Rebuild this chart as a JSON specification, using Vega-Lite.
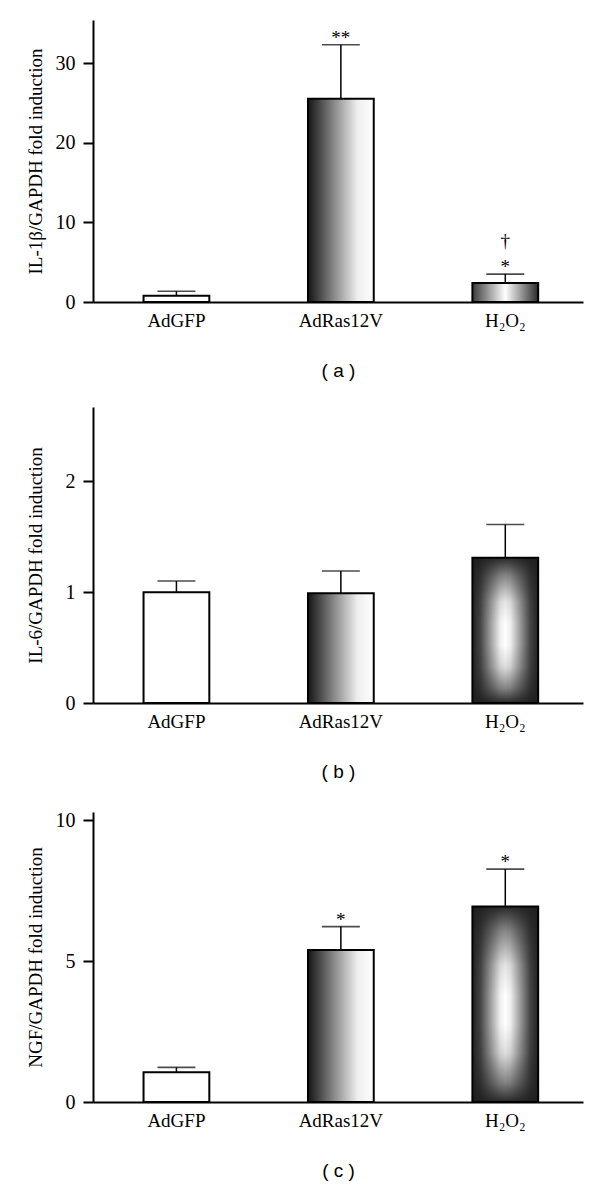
{
  "$schema": "https://vega.github.io/schema/vega-lite/v6.json",
  "background": "white",
  "padding": {"left": 26, "top": 2, "right": 10, "bottom": 2},
  "spacing": 29,
  "config": {
    "view": {"stroke": null},
    "font": "Liberation Serif",
    "axis": {
      "domainColor": "black", "domainWidth": 2, "tickColor": "black", "tickWidth": 2,
      "labelColor": "black", "titleColor": "black",
      "labelFont": "Liberation Serif", "titleFont": "Liberation Serif",
      "labelFontSize": 19, "titleFontSize": 19, "titleFontWeight": "normal", "grid": false
    },
    "axisX": {"ticks": false, "labelAngle": 0, "labelPadding": 9, "titleFont": "Liberation Sans", "titleFontSize": 19, "titlePadding": 31},
    "axisY": {"tickSize": 10, "labelPadding": 8, "titlePadding": 10, "labelFontSize": 20}
  },
  "vconcat": [
    {
      "spacing": 27,
      "vconcat": [
        {
          "width": 490, "height": 282,
          "data": {"values": [
            {"group": "AdGFP", "value": 0.8, "err": 1.35, "sig": "", "sig2": ""},
            {"group": "AdRas12V", "value": 25.5, "err": 32.3, "sig": "**", "sig2": ""},
            {"group": "H₂O₂", "value": 2.4, "err": 3.5, "sig": "*", "sig2": "†"}
          ]},
          "encoding": {
            "x": {"field": "group", "type": "nominal", "sort": null, "scale": {"paddingInner": 0.6, "paddingOuter": 0.29, "align": 0.53}, "axis": {"title": "( a )"}},
            "y": {"field": "value", "type": "quantitative", "scale": {"domain": [0, 35.4], "nice": false}, "axis": {"values": [0, 10, 20, 30], "title": "IL-1β/GAPDH fold induction"}}
          },
          "layer": [
            {"mark": {"type": "rule", "stroke": "black", "strokeWidth": 1.5}, "encoding": {"y2": {"field": "err"}}},
            {"mark": {"type": "tick", "color": "black", "size": 38, "thickness": 1.6}, "encoding": {"y": {"field": "err", "type": "quantitative", "title": "IL-1β/GAPDH fold induction"}}},
            {"transform": [{"filter": "datum.group === 'AdGFP'"}], "mark": {"type": "bar", "fill": "white", "stroke": "black", "strokeWidth": 2}},
            {"transform": [{"filter": "datum.group === 'AdRas12V'"}], "mark": {"type": "bar", "stroke": "black", "strokeWidth": 2,
              "fill": {"gradient": "linear", "x1": 0, "y1": 0, "x2": 1, "y2": 0, "stops": [
                {"offset": 0, "color": "#151515"}, {"offset": 0.4, "color": "#8a8a8a"}, {"offset": 0.75, "color": "#eeeeee"}, {"offset": 1, "color": "#ffffff"}]}}},
            {"transform": [{"filter": "datum.group === 'H₂O₂'"}], "mark": {"type": "bar", "stroke": "black", "strokeWidth": 2,
              "fill": {"gradient": "linear", "x1": 0, "y1": 0, "x2": 1, "y2": 0, "stops": [
                {"offset": 0, "color": "#3a3a3a"}, {"offset": 0.5, "color": "#ffffff"}, {"offset": 1, "color": "#2a2a2a"}]}}},
            {"mark": {"type": "text", "baseline": "alphabetic", "dy": -1, "fontSize": 19, "font": "Liberation Serif", "color": "black"}, "encoding": {"y": {"field": "err", "type": "quantitative", "title": "IL-1β/GAPDH fold induction"}, "text": {"field": "sig"}}},
            {"mark": {"type": "text", "baseline": "alphabetic", "dy": -27, "fontSize": 19, "font": "Liberation Serif", "color": "black"}, "encoding": {"y": {"field": "err", "type": "quantitative", "title": "IL-1β/GAPDH fold induction"}, "text": {"field": "sig2"}}}
          ]
        },
        {
          "width": 490, "height": 296,
          "data": {"values": [
            {"group": "AdGFP", "value": 1.0, "err": 1.1},
            {"group": "AdRas12V", "value": 0.99, "err": 1.19},
            {"group": "H₂O₂", "value": 1.31, "err": 1.61}
          ]},
          "encoding": {
            "x": {"field": "group", "type": "nominal", "sort": null, "scale": {"paddingInner": 0.6, "paddingOuter": 0.29, "align": 0.53}, "axis": {"title": "( b )"}},
            "y": {"field": "value", "type": "quantitative", "scale": {"domain": [0, 2.67], "nice": false}, "axis": {"values": [0, 1, 2], "title": "IL-6/GAPDH fold induction", "titlePadding": 20}}
          },
          "layer": [
            {"mark": {"type": "rule", "stroke": "black", "strokeWidth": 1.5}, "encoding": {"y2": {"field": "err"}}},
            {"mark": {"type": "tick", "color": "black", "size": 38, "thickness": 1.6}, "encoding": {"y": {"field": "err", "type": "quantitative", "title": "IL-6/GAPDH fold induction"}}},
            {"transform": [{"filter": "datum.group === 'AdGFP'"}], "mark": {"type": "bar", "fill": "white", "stroke": "black", "strokeWidth": 2}},
            {"transform": [{"filter": "datum.group === 'AdRas12V'"}], "mark": {"type": "bar", "stroke": "black", "strokeWidth": 2,
              "fill": {"gradient": "linear", "x1": 0, "y1": 0, "x2": 1, "y2": 0, "stops": [
                {"offset": 0, "color": "#151515"}, {"offset": 0.4, "color": "#8a8a8a"}, {"offset": 0.75, "color": "#eeeeee"}, {"offset": 1, "color": "#ffffff"}]}}},
            {"transform": [{"filter": "datum.group === 'H₂O₂'"}], "mark": {"type": "bar", "stroke": null,
              "fill": {"gradient": "linear", "x1": 0, "y1": 0, "x2": 1, "y2": 0, "stops": [
                {"offset": 0, "color": "#222222"}, {"offset": 0.12, "color": "#444444"}, {"offset": 0.3, "color": "#aaaaaa"}, {"offset": 0.42, "color": "#eeeeee"}, {"offset": 0.5, "color": "#ffffff"}, {"offset": 0.58, "color": "#eeeeee"}, {"offset": 0.7, "color": "#aaaaaa"}, {"offset": 0.88, "color": "#444444"}, {"offset": 1, "color": "#222222"}]}}},
            {"transform": [{"filter": "datum.group === 'H₂O₂'"}], "mark": {"type": "bar", "stroke": "black", "strokeWidth": 2,
              "fill": {"gradient": "linear", "x1": 0, "y1": 0, "x2": 0, "y2": 1, "stops": [
                {"offset": 0, "color": "rgba(30,30,30,0.95)"}, {"offset": 0.12, "color": "rgba(30,30,30,0.55)"}, {"offset": 0.3, "color": "rgba(30,30,30,0.12)"}, {"offset": 0.45, "color": "rgba(30,30,30,0)"}, {"offset": 0.6, "color": "rgba(30,30,30,0)"}, {"offset": 0.75, "color": "rgba(30,30,30,0.15)"}, {"offset": 0.9, "color": "rgba(30,30,30,0.55)"}, {"offset": 1, "color": "rgba(30,30,30,0.95)"}]}}}
          ]
        }
      ]
    },
    {
      "width": 490, "height": 290,
      "data": {"values": [
        {"group": "AdGFP", "value": 1.06, "err": 1.23, "sig": ""},
        {"group": "AdRas12V", "value": 5.4, "err": 6.23, "sig": "*"},
        {"group": "H₂O₂", "value": 6.94, "err": 8.27, "sig": "*"}
      ]},
      "encoding": {
        "x": {"field": "group", "type": "nominal", "sort": null, "scale": {"paddingInner": 0.6, "paddingOuter": 0.29, "align": 0.53}, "axis": {"title": "( c )"}},
        "y": {"field": "value", "type": "quantitative", "scale": {"domain": [0, 10.3], "nice": false}, "axis": {"values": [0, 5, 10], "title": "NGF/GAPDH fold induction"}}
      },
      "layer": [
        {"mark": {"type": "rule", "stroke": "black", "strokeWidth": 1.5}, "encoding": {"y2": {"field": "err"}}},
        {"mark": {"type": "tick", "color": "black", "size": 38, "thickness": 1.6}, "encoding": {"y": {"field": "err", "type": "quantitative", "title": "NGF/GAPDH fold induction"}}},
        {"transform": [{"filter": "datum.group === 'AdGFP'"}], "mark": {"type": "bar", "fill": "white", "stroke": "black", "strokeWidth": 2}},
        {"transform": [{"filter": "datum.group === 'AdRas12V'"}], "mark": {"type": "bar", "stroke": "black", "strokeWidth": 2,
          "fill": {"gradient": "linear", "x1": 0, "y1": 0, "x2": 1, "y2": 0, "stops": [
            {"offset": 0, "color": "#151515"}, {"offset": 0.4, "color": "#8a8a8a"}, {"offset": 0.75, "color": "#eeeeee"}, {"offset": 1, "color": "#ffffff"}]}}},
        {"transform": [{"filter": "datum.group === 'H₂O₂'"}], "mark": {"type": "bar", "stroke": null,
          "fill": {"gradient": "linear", "x1": 0, "y1": 0, "x2": 1, "y2": 0, "stops": [
            {"offset": 0, "color": "#222222"}, {"offset": 0.12, "color": "#444444"}, {"offset": 0.3, "color": "#aaaaaa"}, {"offset": 0.42, "color": "#eeeeee"}, {"offset": 0.5, "color": "#ffffff"}, {"offset": 0.58, "color": "#eeeeee"}, {"offset": 0.7, "color": "#aaaaaa"}, {"offset": 0.88, "color": "#444444"}, {"offset": 1, "color": "#222222"}]}}},
        {"transform": [{"filter": "datum.group === 'H₂O₂'"}], "mark": {"type": "bar", "stroke": "black", "strokeWidth": 2,
          "fill": {"gradient": "linear", "x1": 0, "y1": 0, "x2": 0, "y2": 1, "stops": [
            {"offset": 0, "color": "rgba(30,30,30,0.95)"}, {"offset": 0.12, "color": "rgba(30,30,30,0.55)"}, {"offset": 0.3, "color": "rgba(30,30,30,0.12)"}, {"offset": 0.45, "color": "rgba(30,30,30,0)"}, {"offset": 0.6, "color": "rgba(30,30,30,0)"}, {"offset": 0.75, "color": "rgba(30,30,30,0.15)"}, {"offset": 0.9, "color": "rgba(30,30,30,0.55)"}, {"offset": 1, "color": "rgba(30,30,30,0.95)"}]}}},
        {"mark": {"type": "text", "baseline": "alphabetic", "dy": -1, "fontSize": 19, "font": "Liberation Serif", "color": "black"}, "encoding": {"y": {"field": "err", "type": "quantitative", "title": "NGF/GAPDH fold induction"}, "text": {"field": "sig"}}}
      ]
    }
  ]
}
